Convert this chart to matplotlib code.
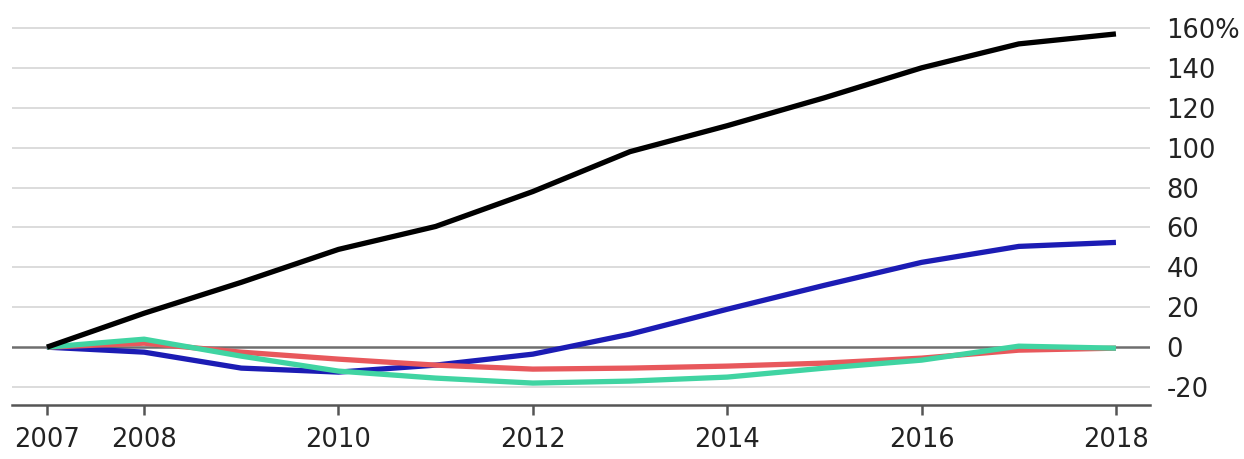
import matplotlib
matplotlib.use("Agg")
import matplotlib.pyplot as plt

years = [2007, 2008, 2009, 2010, 2011, 2012, 2013, 2014, 2015, 2016, 2017, 2018]
black = [0, 17, 32.5, 49, 60.5, 78, 98, 111, 125, 140, 152, 157]
blue = [0, -2.5, -10.5, -12.5, -9, -3.5, 6.5, 19, 31, 42.5, 50.5, 52.5]
red = [0, 2, -2.5, -6, -9, -11, -10.5, -9.5, -8, -5.5, -1.5, -0.5]
green = [0, 4, -4.5, -12, -15.5, -18, -17, -15, -10.5, -6.5, 0.5, -0.5]

xticks = [2007, 2008, 2010, 2012, 2014, 2016, 2018]
yticks = [-20, 0, 20, 40, 60, 80, 100, 120, 140, 160]
ylabels = ["-20", "0", "20", "40", "60", "80", "100", "120", "140", "160%"]

plt.rcParams['font.family'] = ['DejaVu Sans']
fig = plt.figure(figsize=(12.44, 4.59), dpi=100)
ax = fig.add_axes([0.0096, 0.1176, 0.9148, 0.865])

for y in yticks:
    if y == 0:
        ax.axhline(y, color="#6e6e6e", lw=1.8, zorder=1)
    else:
        ax.axhline(y, color="#d9d9d9", lw=1.3, zorder=0)

lw = 3.8
ax.plot(years, blue, color="#1c1cb4", lw=lw, zorder=3, solid_capstyle="butt")
ax.plot(years, red, color="#e8585c", lw=lw, zorder=4, solid_capstyle="butt")
ax.plot(years, green, color="#40d4a2", lw=lw, zorder=5, solid_capstyle="butt")
ax.plot(years, black, color="#000000", lw=lw, zorder=6, solid_capstyle="butt")

ax.set_xlim(2006.64, 2018.35)
ax.set_ylim(-29, 170)

for s in ["top", "left", "right"]:
    ax.spines[s].set_visible(False)
ax.spines["bottom"].set_color("#555555")
ax.spines["bottom"].set_linewidth(1.8)

ax.set_xticks(xticks)
ax.set_xticklabels([str(x) for x in xticks])
ax.tick_params(axis="x", direction="out", length=7, width=1.8, color="#555555",
               labelsize=18.5, pad=9, labelcolor="#222222")

ax.yaxis.tick_right()
ax.set_yticks(yticks)
ax.set_yticklabels(ylabels)
ax.tick_params(axis="y", length=0, labelsize=18.5, pad=12, labelcolor="#222222")

fig.savefig("out.png", dpi=100)
